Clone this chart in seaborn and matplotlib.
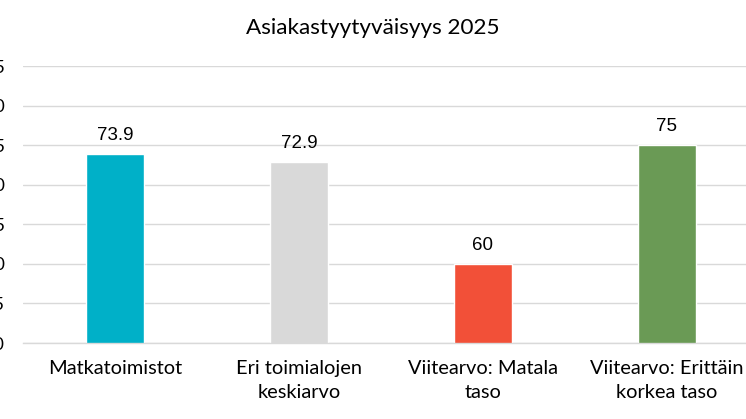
import matplotlib
matplotlib.use("Agg")
import matplotlib.pyplot as plt
import seaborn as sns
import pandas as pd

categories = ["Matkatoimistot", "Eri toimialojen\nkeskiarvo",
              "Viitearvo: Matala\ntaso", "Viitearvo: Erittäin\nkorkea taso"]
values = [73.9, 72.9, 60, 75]
value_labels = ["73.9", "72.9", "60", "75"]
colors = ["#00B0C8", "#D9D9D9", "#F25038", "#6A9A55"]
yticks = [50, 55, 60, 65, 70, 75, 80, 85]

sns.set_theme(style="white")
plt.rcParams["font.family"] = ["Lato", "DejaVu Sans"]
plt.rcParams["text.color"] = "black"
plt.rcParams["xtick.color"] = "black"
plt.rcParams["ytick.color"] = "black"

df = pd.DataFrame({"kategoria": categories, "arvo": values})

fig = plt.figure(figsize=(7.46, 4.19), dpi=100)
ax = fig.add_axes([23 / 746, 1 - 343 / 419, (759 - 23) / 746, (343 - 66) / 419])

sns.barplot(df, x="kategoria", y="arvo", hue="kategoria", palette=colors,
            width=0.315, legend=False, ax=ax, saturation=1)

ax.set_ylim(50, 85)
ax.set_yticks(yticks)
ax.set_yticklabels([str(t) for t in yticks], fontsize=13)
ax.tick_params(axis="y", length=0, pad=13)
ax.tick_params(axis="x", length=0, pad=12, labelsize=14.4)
ax.grid(axis="y", color="#D9D9D9", linewidth=1)
ax.set_axisbelow(True)
for side in ["left", "right", "top"]:
    ax.spines[side].set_visible(False)
ax.spines["bottom"].set_color("#D9D9D9")
ax.spines["bottom"].set_linewidth(1)
ax.set_xlabel("")
ax.set_ylabel("")
for lbl in ax.get_xticklabels():
    lbl.set_linespacing(1.5)

for i, (v, t) in enumerate(zip(values, value_labels)):
    ax.annotate(t, (i, v), xytext=(0, 7), textcoords="offset points",
                ha="center", va="bottom", fontsize=13.5,
                family=["Liberation Sans", "DejaVu Sans"])

fig.text(0.5, 1 - 28 / 419, "Asiakastyytyväisyys 2025", ha="center",
         va="center", fontsize=16.2)

fig.savefig("out.png", dpi=100)
plt.close(fig)
